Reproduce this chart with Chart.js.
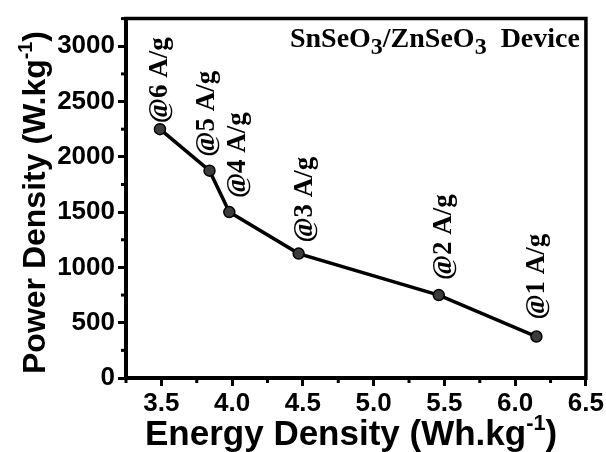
<!DOCTYPE html>
<html>
<head>
<meta charset="utf-8">
<script src="https://cdn.jsdelivr.net/npm/chart.js@4.4.1/dist/chart.umd.min.js"></script>
<style>
  html, body { margin: 0; padding: 0; background: #fff; }
  canvas { display: block; }
</style>
</head>
<body>
<canvas id="ragone" width="606" height="452"></canvas>
<script>
// energy / power density of the device at each current density
const energyDensity = [3.49, 3.84, 3.98, 4.47, 5.46, 6.15];
const powerDensity = [2250, 1875, 1500, 1125, 750, 375];
const currentLabels = ["@6 A/g", "@5 A/g", "@4 A/g", "@3 A/g", "@2 A/g", "@1 A/g"];

const xTicks = [3.5, 4.0, 4.5, 5.0, 5.5, 6.0, 6.5];
const yTicks = [0, 500, 1000, 1500, 2000, 2500, 3000];
const xMinor = [3.25, 3.75, 4.25, 4.75, 5.25, 5.75, 6.25];
const yMinor = [250, 750, 1250, 1750, 2250, 2750, 3250];

const SANS = "'Liberation Sans', Arial, sans-serif";
const SERIF = "'Liberation Serif', 'Times New Roman', serif";

/* =========================
  Helper: text with sub/superscripts
========================= */
function drawRich(c, parts, x, y, size, family) {
  let cx = x;
  parts.forEach(p => {
    const s = p.sup || p.sub ? (p.size || size * 0.62) : size;
    c.font = `bold ${s}px ${family}`;
    let dy = 0;
    if (p.sup) dy = -size * 0.42;
    if (p.sub) dy = p.drop || size * 0.25;
    c.fillText(p.t, cx, y + dy);
    cx += c.measureText(p.t).width;
  });
  return cx - x;
}

function richWidth(c, parts, size, family) {
  let w = 0;
  parts.forEach(p => {
    const s = p.sup || p.sub ? (p.size || size * 0.62) : size;
    c.font = `bold ${s}px ${family}`;
    w += c.measureText(p.t).width;
  });
  return w;
}

/* =========================
  Plugin: frame, minor ticks, titles, labels
========================= */
const decorations = {
  id: "decorations",
  afterDraw(chart) {
    const c = chart.ctx;
    const { left, right, top, bottom } = chart.chartArea;
    const xs = chart.scales.x;
    const ys = chart.scales.y;

    c.save();
    c.strokeStyle = "#000";
    c.fillStyle = "#000";

    // top + right frame
    c.lineWidth = 3.5;
    c.beginPath();
    c.moveTo(left - 2, top);
    c.lineTo(right, top);
    c.lineTo(right, bottom + 2);
    c.stroke();

    // minor ticks
    c.lineWidth = 3;
    xMinor.forEach(v => {
      const px = xs.getPixelForValue(v);
      c.beginPath();
      c.moveTo(px, bottom);
      c.lineTo(px, bottom + 5);
      c.stroke();
    });
    yMinor.forEach(v => {
      const py = ys.getPixelForValue(v);
      c.beginPath();
      c.moveTo(left, py);
      c.lineTo(left - 5, py);
      c.stroke();
    });

    // device name
    const name = [
      { t: "SnSeO" }, { t: "3", sub: true, size: 24, drop: 7 },
      { t: "/ZnSeO" }, { t: "3", sub: true, size: 24, drop: 7 },
      { t: "  Device" }
    ];
    c.textBaseline = "alphabetic";
    c.textAlign = "left";
    const nw = richWidth(c, name, 28, SERIF);
    drawRich(c, name, right - 6 - nw, 47, 28, SERIF);

    // x axis title
    const xt = [{ t: "Energy Density (Wh.kg" }, { t: "-1", sup: true }, { t: ")" }];
    const xw = richWidth(c, xt, 35, SANS);
    drawRich(c, xt, 145, 445, 35, SANS);

    // y axis title
    const yt = [{ t: "Power Density (W.kg" }, { t: "-1", sup: true }, { t: ")" }];
    const yw = richWidth(c, yt, 32, SANS);
    c.save();
    c.translate(45, 374);
    c.rotate(-Math.PI / 2);
    drawRich(c, yt, 0, 0, 32, SANS);
    c.restore();

    // current density labels above each point
    const dx = [0, -2, 9, 6, 5, 1];
    const gap = [6, 14, 14, 11, 15, 17];
    c.font = `bold 27px ${SERIF}`;
    c.textBaseline = "middle";
    currentLabels.forEach((lab, i) => {
      const px = xs.getPixelForValue(energyDensity[i]);
      const py = ys.getPixelForValue(powerDensity[i]);
      c.save();
      c.translate(px + dx[i], py - gap[i]);
      c.rotate(-Math.PI / 2);
      c.fillText(lab, 0, 0);
      c.restore();
    });

    c.restore();
  }
};

/* =========================
  Chart
========================= */
const tickFont = { family: SANS, weight: "bold", size: 26 };

new Chart(document.getElementById("ragone"), {
  type: "scatter",
  data: {
    datasets: [{
      data: energyDensity.map((e, i) => ({ x: e, y: powerDensity[i] })),
      showLine: true,
      borderColor: "#000",
      borderWidth: 3.5,
      pointRadius: 5.5,
      pointBackgroundColor: "#3c3c3c",
      pointBorderColor: "#000",
      pointBorderWidth: 1.5
    }]
  },
  options: {
    responsive: false,
    animation: false,
    layout: { padding: { top: 16, right: 20, left: 0, bottom: 0 } },
    plugins: {
      legend: { display: false },
      tooltip: { enabled: false }
    },
    scales: {
      x: {
        type: "linear",
        min: 3.25,
        max: 6.5,
        afterBuildTicks: s => { s.ticks = xTicks.map(v => ({ value: v })); },
        afterFit: s => { s.height = 74; },
        ticks: {
          callback: v => v.toFixed(1),
          font: tickFont,
          color: "#000",
          padding: 2,
          maxRotation: 0,
          autoSkip: false
        },
        grid: { drawOnChartArea: false, tickLength: 8, tickWidth: 3, color: "#000" },
        border: { color: "#000", width: 4 }
      },
      y: {
        min: 0,
        max: 3250,
        afterBuildTicks: s => { s.ticks = yTicks.map(v => ({ value: v })); },
        afterFit: s => { s.width = 126; },
        ticks: {
          callback: v => String(v),
          font: tickFont,
          color: "#000",
          padding: 3,
          autoSkip: false
        },
        grid: { drawOnChartArea: false, tickLength: 8, tickWidth: 3, color: "#000" },
        border: { color: "#000", width: 4 }
      }
    }
  },
  plugins: [decorations]
});
</script>
</body>
</html>
